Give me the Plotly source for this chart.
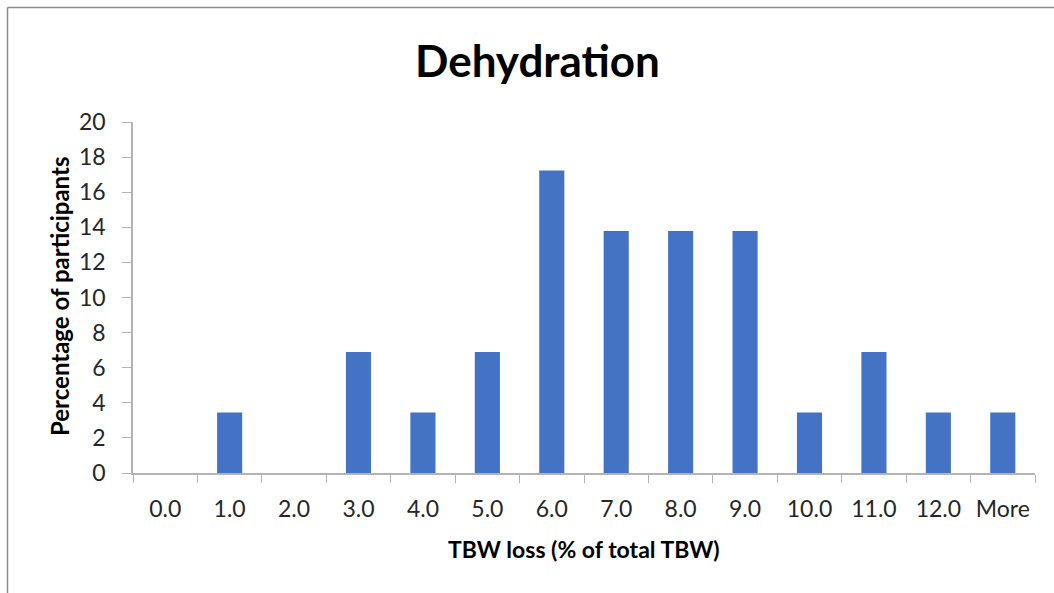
import plotly.graph_objects as go

categories = ["0.0", "1.0", "2.0", "3.0", "4.0", "5.0", "6.0", "7.0", "8.0", "9.0", "10.0", "11.0", "12.0", "More"]
percent = [0, 3.45, 0, 6.9, 3.45, 6.9, 17.24, 13.79, 13.79, 13.79, 3.45, 6.9, 3.45, 3.45]
y_ticks = [0, 2, 4, 6, 8, 10, 12, 14, 16, 18, 20]

W, H = 1054, 593
L, R, T, B = 133, 19, 122, 120
pw, ph = W - L - R, H - T - B

def px_x(x):
    return (x - L) / pw

def px_y(y):
    return (H - B - y) / ph

FONT = "Lato"
AX = "#b3b3b3"

fig = go.Figure(go.Bar(
    x=categories, y=percent,
    marker=dict(color="#4472C4", line=dict(width=0)),
    width=0.39,
))

fig.update_layout(
    width=W, height=H,
    margin=dict(l=L, r=R, t=T, b=B),
    paper_bgcolor="white", plot_bgcolor="white",
    showlegend=False,
    font=dict(family=FONT, color="#262626"),
    xaxis=dict(
        type="category", tickson="boundaries", ticks="outside", ticklen=8, tickcolor=AX,
        showline=True, linecolor=AX, linewidth=1.5, showgrid=False,
        tickfont=dict(size=23, family=FONT, color="#262626"), ticklabelstandoff=15,
        range=[-0.5, len(categories) - 0.5],
    ),
    yaxis=dict(
        range=[0, 20], tickvals=y_ticks, ticks="outside", ticklen=9, tickcolor=AX,
        showline=True, linecolor=AX, linewidth=1.5, showgrid=False, zeroline=False,
        tickfont=dict(size=23, family=FONT, color="#262626"), ticklabelstandoff=12,
    ),
    annotations=[
        dict(text="<b>Dehydration</b>", xref="paper", yref="paper",
             x=px_x(537), y=px_y(60), showarrow=False,
             font=dict(size=44, family=FONT, color="black"), xanchor="center", yanchor="middle"),
        dict(text="<b>TBW loss (% of total TBW)</b>", xref="paper", yref="paper",
             x=px_x(584), y=px_y(549), showarrow=False,
             font=dict(size=23, family=FONT, color="black"), xanchor="center", yanchor="middle"),
        dict(text="<b>Percentage of participants</b>", xref="paper", yref="paper",
             x=px_x(59), y=px_y(297), showarrow=False, textangle=-90,
             font=dict(size=24, family=FONT, color="black"), xanchor="center", yanchor="middle"),
    ],
    shapes=[
        dict(type="line", xref="paper", yref="paper", x0=px_x(7.5), x1=px_x(1054), y0=px_y(7.5), y1=px_y(7.5),
             line=dict(color="#8c8c8c", width=1.5)),
        dict(type="line", xref="paper", yref="paper", x0=px_x(7.5), x1=px_x(7.5), y0=px_y(7.5), y1=px_y(593),
             line=dict(color="#8c8c8c", width=1.5)),
    ],
)

fig.write_html("out.html", config={"displayModeBar": False},
               post_script="document.body.style.margin='0';document.body.style.overflow='hidden';")
